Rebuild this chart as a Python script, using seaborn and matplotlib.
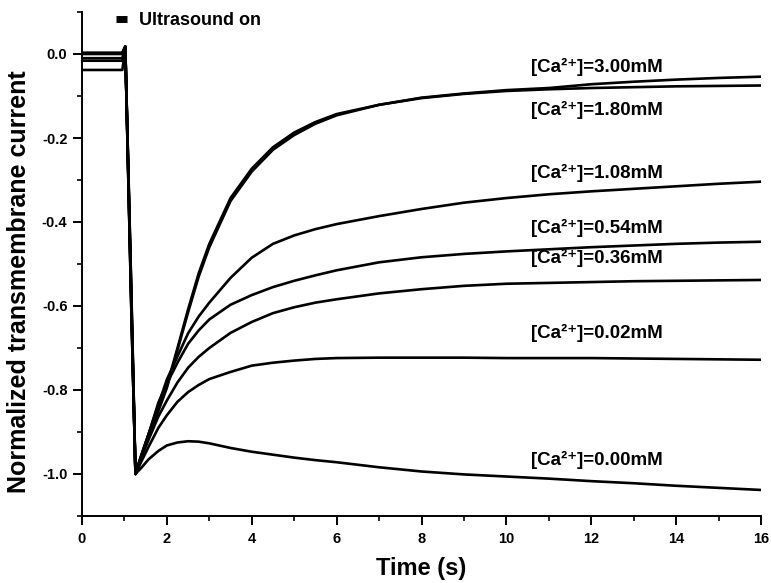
import numpy as np
import pandas as pd
import matplotlib
matplotlib.use("Agg")
import matplotlib.pyplot as plt
from matplotlib.lines import Line2D
from matplotlib.ticker import MultipleLocator, FormatStrFormatter
import seaborn as sns

# ---------------- data ----------------
time_s = [0.0, 0.95, 1.02, 1.16, 1.26, 1.4, 1.57, 1.8, 2.0, 2.25, 2.5, 2.75, 3.0,
          3.5, 4.0, 4.5, 5.0, 5.5, 6.0, 7.0, 8.0, 9.0, 10.0, 11.0, 12.0, 13.0,
          14.0, 15.0, 16.0]

ca_3_00 = [0.002, 0.002, 0.018, -0.56, -0.998, -0.96, -0.91, -0.85, -0.795, -0.705,
           -0.615, -0.53, -0.46, -0.35, -0.28, -0.228, -0.193, -0.166, -0.146,
           -0.121, -0.104, -0.094, -0.086, -0.081, -0.072, -0.066, -0.061, -0.057, -0.054]
ca_1_80 = [0.0, 0.0, 0.018, -0.55, -0.998, -0.955, -0.905, -0.845, -0.79, -0.70,
           -0.608, -0.522, -0.452, -0.343, -0.273, -0.222, -0.187, -0.162, -0.143,
           -0.121, -0.105, -0.095, -0.088, -0.084, -0.081, -0.079, -0.077, -0.076, -0.075]
ca_1_08 = [-0.010, -0.010, 0.016, -0.57, -1.0, -0.955, -0.905, -0.835, -0.775, -0.72,
           -0.665, -0.625, -0.592, -0.533, -0.485, -0.452, -0.432, -0.417, -0.405,
           -0.386, -0.369, -0.354, -0.343, -0.334, -0.327, -0.321, -0.315, -0.309, -0.304]
ca_0_54 = [0.003, 0.003, 0.018, -0.58, -1.0, -0.955, -0.905, -0.83, -0.785, -0.735,
           -0.69, -0.658, -0.632, -0.597, -0.574, -0.555, -0.540, -0.527, -0.515,
           -0.496, -0.484, -0.476, -0.470, -0.465, -0.460, -0.456, -0.452, -0.449, -0.447]
ca_0_36 = [-0.016, -0.016, 0.015, -0.59, -1.0, -0.96, -0.918, -0.863, -0.825, -0.782,
           -0.747, -0.721, -0.70, -0.664, -0.638, -0.617, -0.603, -0.592, -0.584,
           -0.570, -0.560, -0.552, -0.547, -0.545, -0.543, -0.541, -0.540, -0.539, -0.538]
ca_0_02 = [-0.038, -0.038, 0.012, -0.60, -1.0, -0.97, -0.935, -0.89, -0.86, -0.828,
           -0.805, -0.788, -0.774, -0.757, -0.742, -0.735, -0.73, -0.726, -0.724,
           -0.723, -0.723, -0.723, -0.724, -0.724, -0.724, -0.725, -0.726, -0.727, -0.728]
ca_0_00 = [0.001, 0.001, 0.017, -0.60, -1.0, -0.985, -0.965, -0.945, -0.932, -0.925,
           -0.922, -0.923, -0.927, -0.938, -0.947, -0.954, -0.961, -0.967, -0.972,
           -0.984, -0.994, -1.001, -1.006, -1.011, -1.017, -1.022, -1.028, -1.033, -1.038]

series_names = ["3.00", "1.80", "1.08", "0.54", "0.36", "0.02", "0.00"]
series_values = [ca_3_00, ca_1_80, ca_1_08, ca_0_54, ca_0_36, ca_0_02, ca_0_00]

# label placement (data coords)
label_x = 10.59
label_y = [-0.030, -0.133, -0.284, -0.414, -0.486, -0.665, -0.967]

# ---------------- build long-form table ----------------
rows = []
for name, vals in zip(series_names, series_values):
    for t, v in zip(time_s, vals):
        rows.append({"t": t, "v": v, "series": name})
df = pd.DataFrame(rows)

# ---------------- style ----------------
sns.set_style("ticks")
plt.rcParams["font.family"] = ["Liberation Sans", "DejaVu Sans"]
plt.rcParams["font.weight"] = "bold"
plt.rcParams["axes.unicode_minus"] = False
for key in ["text.color", "axes.labelcolor", "xtick.color", "ytick.color",
            "axes.edgecolor"]:
    plt.rcParams[key] = "black"

fig = plt.figure(figsize=(7.71, 5.83), dpi=100)
ax = fig.add_axes([82 / 771, 1 - 516 / 583, (761 - 82) / 771, (516 - 12) / 583])

sns.lineplot(data=df, x="t", y="v", hue="series", hue_order=series_names,
             palette=["black"] * len(series_names), estimator=None, sort=False,
             legend=False, linewidth=1.9, ax=ax)

ax.set_xlim(0, 16)
ax.set_ylim(-1.1, 0.1)
ax.xaxis.set_major_locator(MultipleLocator(2))
ax.xaxis.set_minor_locator(MultipleLocator(1))
ax.yaxis.set_major_locator(MultipleLocator(0.2))
ax.yaxis.set_minor_locator(MultipleLocator(0.1))
ax.yaxis.set_major_formatter(FormatStrFormatter("%.1f"))
ax.tick_params(which="major", direction="out", length=6.5, width=1.4, labelsize=10.5)
ax.tick_params(axis="x", which="major", pad=5)
ax.tick_params(axis="y", which="major", pad=4)
ax.tick_params(which="minor", direction="out", length=3.3, width=1.2)
for lab in ax.get_xticklabels() + ax.get_yticklabels():
    lab.set_fontweight("bold")
for s in ["top", "right"]:
    ax.spines[s].set_visible(False)
for s in ["left", "bottom"]:
    ax.spines[s].set_linewidth(1.4)

ax.set_xlabel("Time (s)", fontsize=17, fontweight="bold")
ax.set_ylabel("Normalized transmembrane current", fontsize=18, fontweight="bold")
ax.xaxis.set_label_coords(0.5, -0.082)
ax.yaxis.set_label_coords(-0.075, 0.465)

for name, y in zip(series_names, label_y):
    ax.text(label_x, y, "[Ca\u00b2\u207a]=" + name + "mM", fontsize=13.5,
            fontweight="bold", va="center", ha="left")

handle = Line2D([0], [0], color="black", lw=5, solid_capstyle="butt")
leg = ax.legend([handle], ["Ultrasound on"], loc="upper left",
                bbox_to_anchor=(0.05, 1.0), frameon=False, handlelength=0.6,
                handletextpad=0.7, borderpad=0, borderaxespad=0,
                prop={"size": 13, "weight": "bold"})

fig.savefig("out.png", dpi=100)
